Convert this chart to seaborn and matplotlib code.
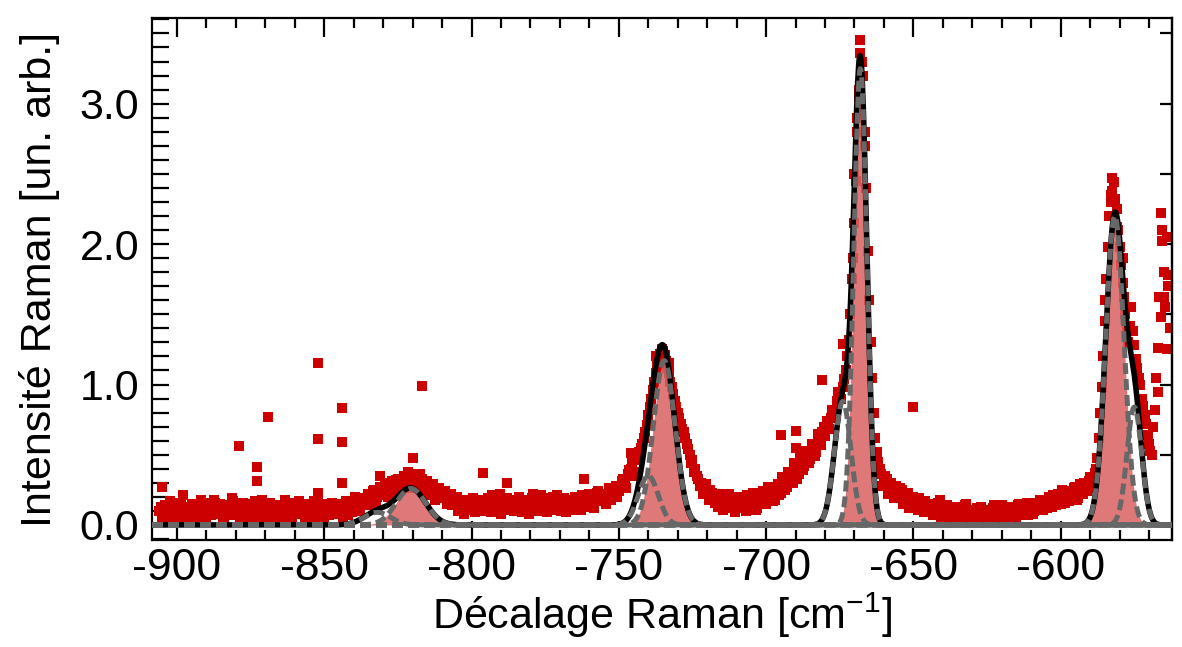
import numpy as np
import pandas as pd
import matplotlib
matplotlib.use('Agg')
import matplotlib.pyplot as plt
import seaborn as sns
from matplotlib.ticker import MultipleLocator, FormatStrFormatter

# Measured spectrum, one point per cm-1 from -906 to -563
shift_start = -906
intensity = [
    0.10, 0.05, 0.14, 0.08, 0.12, 0.03, 0.16, 0.09, 0.13, 0.06,
    0.11, 0.15, 0.07, 0.12, 0.18, 0.09, 0.04, 0.13, 0.10, 0.16,
    0.08, 0.12, 0.05, 0.14, 0.10, 0.17, 0.07, 0.11, 0.03, 0.13,
    0.09, 0.15, 0.06, 0.12, 0.10, 0.18, 0.08, 0.13, 0.05, 0.11,
    0.14, 0.07, 0.12, 0.09, 0.16, 0.04, 0.11, 0.13, 0.08, 0.15,
    0.10, 0.06, 0.13, 0.09, 0.17, 0.11, 0.05, 0.14, 0.10, 0.12,
    0.08, 0.15, 0.11, 0.13, 0.07, 0.16, 0.12, 0.18, 0.10, 0.19,
    0.16, 0.22, 0.18, 0.25, 0.20, 0.27, 0.23, 0.30, 0.25, 0.31,
    0.27, 0.33, 0.29, 0.35, 0.30, 0.36, 0.31, 0.34, 0.28, 0.33,
    0.27, 0.31, 0.24, 0.29, 0.22, 0.26, 0.19, 0.24, 0.17, 0.22,
    0.15, 0.20, 0.13, 0.18, 0.11, 0.17, 0.14, 0.09, 0.16, 0.12,
    0.18, 0.10, 0.15, 0.21, 0.12, 0.17, 0.08, 0.14, 0.19, 0.11,
    0.16, 0.13, 0.20, 0.09, 0.15, 0.18, 0.12, 0.22, 0.14, 0.10,
    0.17, 0.13, 0.19, 0.11, 0.16, 0.21, 0.12, 0.15, 0.09, 0.18,
    0.13, 0.20, 0.15, 0.11, 0.18, 0.14, 0.22, 0.16, 0.19, 0.24,
    0.17, 0.22, 0.19, 0.25, 0.21, 0.28, 0.24, 0.31, 0.29, 0.36,
    0.40, 0.38, 0.46, 0.52, 0.58, 0.66, 0.78, 0.90, 1.02, 1.13,
    1.22, 1.24, 1.17, 1.08, 0.98, 0.88, 0.80, 0.72, 0.66, 0.58,
    0.50, 0.46, 0.40, 0.33, 0.30, 0.26, 0.22, 0.25, 0.19, 0.21,
    0.16, 0.22, 0.14, 0.19, 0.12, 0.17, 0.20, 0.13, 0.16, 0.10,
    0.18, 0.14, 0.21, 0.12, 0.17, 0.24, 0.15, 0.20, 0.26, 0.18,
    0.29, 0.23, 0.32, 0.27, 0.35, 0.30, 0.40, 0.36, 0.45, 0.42,
    0.50, 0.47, 0.55, 0.52, 0.60, 0.66, 0.63, 0.71, 0.76, 0.80,
    0.88, 0.92, 0.98, 1.10, 1.32, 1.75, 2.15, 2.80, 3.36, 3.20,
    2.40, 1.60, 1.05, 0.62, 0.45, 0.36, 0.30, 0.33, 0.27, 0.24,
    0.28, 0.21, 0.25, 0.18, 0.23, 0.16, 0.20, 0.14, 0.19, 0.13,
    0.17, 0.11, 0.15, 0.09, 0.14, 0.18, 0.08, 0.12, 0.05, 0.13,
    0.10, 0.04, 0.12, 0.08, 0.15, 0.06, 0.11, 0.02, 0.09, 0.13,
    0.07, 0.10, 0.03, 0.12, 0.06, 0.09, 0.14, 0.05, 0.11, 0.08,
    0.12, 0.06, 0.15, 0.09, 0.13, 0.07, 0.16, 0.10, 0.14, 0.18,
    0.11, 0.16, 0.20, 0.13, 0.18, 0.22, 0.15, 0.19, 0.24, 0.17,
    0.22, 0.27, 0.19, 0.25, 0.30, 0.24, 0.34, 0.29, 0.40, 0.62,
    0.98, 1.45, 1.98, 2.35, 2.44, 2.25, 1.98, 1.72, 1.50, 1.30,
    1.55, 1.28, 1.12, 1.00, 0.85, 0.72, 0.58, 0.50, 0.82, 1.26,
    1.48, 1.80, 2.05, 1.40,
]

# second set of readings, half way between the first ones (-905.5 to -563.5)
intensity_half = [
    0.13, 0.09, 0.04, 0.17, 0.07, 0.12, 0.10, 0.15, 0.05, 0.11,
    0.08, 0.02, 0.14, 0.06, 0.11, 0.16, 0.12, 0.07, 0.18, 0.09,
    0.15, 0.03, 0.10, 0.07, 0.19, 0.12, 0.14, 0.06, 0.16, 0.09,
    0.12, 0.05, 0.17, 0.08, 0.14, 0.03, 0.11, 0.16, 0.09, 0.14,
    0.06, 0.12, 0.18, 0.05, 0.10, 0.13, 0.08, 0.17, 0.11, 0.04,
    0.14, 0.09, 0.17, 0.04, 0.12, 0.15, 0.09, 0.07, 0.16, 0.08,
    0.13, 0.10, 0.06, 0.17, 0.14, 0.09, 0.20, 0.13, 0.16, 0.14,
    0.19, 0.14, 0.24, 0.16, 0.22, 0.21, 0.28, 0.20, 0.27, 0.23,
    0.32, 0.25, 0.30, 0.27, 0.38, 0.26, 0.35, 0.29, 0.36, 0.25,
    0.30, 0.21, 0.27, 0.18, 0.24, 0.20, 0.23, 0.15, 0.21, 0.14,
    0.18, 0.10, 0.16, 0.08, 0.14, 0.12, 0.19, 0.13, 0.10, 0.16,
    0.13, 0.19, 0.09, 0.14, 0.17, 0.22, 0.11, 0.18, 0.13, 0.16,
    0.10, 0.18, 0.14, 0.17, 0.12, 0.08, 0.19, 0.13, 0.17, 0.21,
    0.14, 0.09, 0.16, 0.20, 0.13, 0.17, 0.10, 0.19, 0.14, 0.12,
    0.18, 0.11, 0.17, 0.21, 0.13, 0.19, 0.15, 0.12, 0.23, 0.18,
    0.21, 0.15, 0.26, 0.18, 0.24, 0.20, 0.27, 0.33, 0.26, 0.39,
    0.44, 0.35, 0.49, 0.55, 0.62, 0.71, 0.84, 0.96, 1.08, 1.19,
    1.25, 1.21, 1.12, 1.02, 0.93, 0.84, 0.76, 0.68, 0.62, 0.54,
    0.44, 0.38, 0.35, 0.28, 0.22, 0.29, 0.18, 0.23, 0.16, 0.13,
    0.19, 0.11, 0.17, 0.22, 0.15, 0.09, 0.14, 0.19, 0.12, 0.21,
    0.15, 0.23, 0.11, 0.19, 0.21, 0.16, 0.27, 0.22, 0.17, 0.25,
    0.21, 0.34, 0.25, 0.38, 0.31, 0.44, 0.33, 0.48, 0.39, 0.53,
    0.44, 0.58, 0.49, 0.65, 0.57, 0.70, 0.74, 0.68, 0.82, 0.78,
    0.95, 0.90, 1.04, 1.20, 1.50, 1.90, 2.45, 3.05, 3.30, 2.80,
    1.95, 1.30, 0.80, 0.52, 0.40, 0.28, 0.35, 0.22, 0.30, 0.19,
    0.23, 0.26, 0.15, 0.21, 0.12, 0.19, 0.17, 0.11, 0.16, 0.09,
    0.13, 0.15, 0.07, 0.12, 0.16, 0.06, 0.11, 0.14, 0.09, 0.04,
    0.08, 0.13, 0.06, 0.14, 0.03, 0.10, 0.07, 0.12, 0.05, 0.10,
    0.11, 0.05, 0.09, 0.14, 0.04, 0.12, 0.08, 0.10, 0.13, 0.06,
    0.09, 0.14, 0.11, 0.07, 0.16, 0.12, 0.08, 0.15, 0.11, 0.13,
    0.15, 0.12, 0.17, 0.21, 0.14, 0.19, 0.25, 0.16, 0.21, 0.20,
    0.26, 0.18, 0.29, 0.22, 0.27, 0.31, 0.26, 0.37, 0.48, 0.80,
    1.20, 1.75, 2.20, 2.38, 2.32, 2.10, 1.85, 1.62, 1.40, 1.42,
    1.38, 1.18, 1.05, 0.90, 0.78, 0.64, 0.53, 0.70, 1.05, 1.62,
    2.10, 1.55, 1.70,
]

# isolated points off the main band
extra_shift = [-905, -898, -879, -869, -873, -873, -852, -852, -844, -844,
               -844, -852, -817, -820, -831, -796, -788, -762, -746, -650,
               -681, -695, -690, -690, -674, -668, -669, -670, -666.5, -668.5,
               -582.5, -583, -581, -566, -565, -564, -567, -565.5, -563.5, -585,
               -579, -737.5, -733]
extra_int = [0.27, 0.21, 0.56, 0.77, 0.41, 0.31, 0.61, 1.15, 0.83, 0.59,
             0.30, 0.23, 0.99, 0.48, 0.35, 0.37, 0.30, 0.33, 0.51, 0.84,
             1.03, 0.64, 0.67, 0.55, 1.29, 3.45, 2.90, 2.50, 2.70, 3.10,
             2.47, 2.30, 2.12, 2.22, 1.62, 1.25, 0.95, 2.02, 1.78, 1.60,
             1.90, 1.20, 1.15]

# fitted gaussian components
peak_center = [-820.6, -832.0, -734.6, -740.0, -668.0, -674.0, -581.6, -575.0]
peak_height = [0.26, 0.09, 1.17, 0.35, 3.25, 0.88, 2.20, 0.84]
peak_sigma = [5.0, 4.5, 3.7, 3.4, 2.2, 2.8, 3.1, 2.5]
peak_filled = [True, False, True, False, True, False, True, False]

xmin, xmax = -908.5, -562.2
ymin, ymax = -0.107, 3.61

shift = shift_start + np.arange(len(intensity))
shift_half = shift_start + 0.5 + np.arange(len(intensity_half))
df = pd.DataFrame({'shift': np.concatenate([shift, shift_half, extra_shift]),
                   'intensity': np.concatenate([intensity, intensity_half, extra_int])})

sns.set_style('ticks')
plt.rcParams['font.family'] = ['Liberation Sans', 'DejaVu Sans']
plt.rcParams['axes.unicode_minus'] = False
plt.rcParams['mathtext.default'] = 'regular'
plt.rcParams['text.color'] = 'black'
plt.rcParams['axes.labelcolor'] = 'black'
plt.rcParams['xtick.color'] = 'black'
plt.rcParams['ytick.color'] = 'black'
plt.rcParams['axes.edgecolor'] = 'black'

fig = plt.figure(figsize=(11.82, 6.47), dpi=100)
ax = fig.add_axes([152 / 1182, 1 - 540 / 647, (1172 - 152) / 1182, (540 - 18) / 647])

sns.scatterplot(data=df, x='shift', y='intensity', marker='s', s=48,
                color='#cc0000', linewidth=0, ax=ax, zorder=1)

xf = np.linspace(xmin, xmax, 2000)
comps = [h * np.exp(-(xf - c) ** 2 / (2 * s ** 2))
         for c, h, s in zip(peak_center, peak_height, peak_sigma)]
total = np.sum(comps, axis=0)

for g, filled in zip(comps, peak_filled):
    if filled:
        ax.fill_between(xf, 0, g, color='#da6262', alpha=0.85, lw=0, zorder=2)

sns.lineplot(x=xf, y=total, color='black', lw=4.0, ax=ax, zorder=3)
for g in comps:
    ax.plot(xf, g, color='#676767', lw=3.6, linestyle=(0, (2.2, 1.0)),
            zorder=4)

ax.set_xlim(xmin, xmax)
ax.set_ylim(ymin, ymax)

for sp in ax.spines.values():
    sp.set_linewidth(1.6)
    sp.set_visible(True)

ax.xaxis.set_major_locator(MultipleLocator(50))
ax.xaxis.set_minor_locator(MultipleLocator(10))
ax.yaxis.set_major_locator(MultipleLocator(1.0))
ax.yaxis.set_minor_locator(MultipleLocator(0.1))
ax.yaxis.set_major_formatter(FormatStrFormatter('%.1f'))
ax.tick_params(axis='x', which='major', direction='in', length=14, width=1.6,
               top=True, labelsize=32, pad=6)
ax.tick_params(axis='x', which='minor', direction='in', length=7, width=1.6, top=True)
ax.tick_params(axis='y', which='both', direction='in', length=12, width=1.6,
               right=False, pad=9, labelsize=31)

# right axis only carries ticks every 0.5
sec = ax.secondary_yaxis('right')
sec.yaxis.set_major_locator(MultipleLocator(0.5))
sec.tick_params(direction='in', length=9, width=1.6, labelright=False)
sec.spines['right'].set_linewidth(1.6)

ax.set_xlabel('Décalage Raman [cm$^{-1}$]', fontsize=31, labelpad=1)
ax.set_ylabel('Intensité Raman [un. arb.]', fontsize=31, labelpad=14)

fig.savefig('out.png', dpi=100)
